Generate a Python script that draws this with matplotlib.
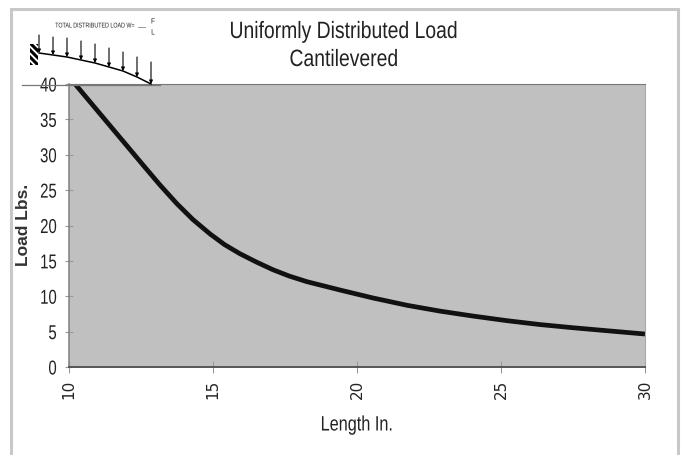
import matplotlib
matplotlib.use('Agg')
import matplotlib.pyplot as plt
import matplotlib.patheffects as pe
from matplotlib.patches import Rectangle
from matplotlib.transforms import Affine2D

# curve
length = [10.21, 10.8, 11.42, 12.0, 12.58, 13.16, 13.74, 14.3, 14.9, 15.4, 15.94, 16.5, 17.08, 17.65, 18.26, 19.41, 20.56, 21.74, 22.88, 24.03, 25.2, 26.35, 27.5, 28.7, 30]
load = [40, 37.14, 34.13, 31.32, 28.5, 25.72, 23.11, 20.85, 18.8, 17.3, 16.0, 14.85, 13.75, 12.85, 12.06, 10.88, 9.75, 8.72, 7.9, 7.2, 6.55, 6.0, 5.55, 5.12, 4.66]
xticks = [10, 15, 20, 25, 30]
yticks = [0, 5, 10, 15, 20, 25, 30, 35, 40]

# beam sketch, in pixels of the picture
arrow_x = [39, 53, 67, 81, 95, 109, 123, 137, 151]
arrow_top = [35, 37, 38, 41, 44, 48, 52, 57, 62]
beam_y = [53, 55, 57, 60, 63, 67, 71, 77, 84]
wall_stripe_y = [36, 43, 50, 57, 64]

W, H = 681, 455
INK = '#222222'
FONT = 'Liberation Sans'


class Squeeze(pe.AbstractPathEffect):
    # no narrow font installed, so squeeze the glyphs sideways round one pixel column
    def __init__(self, cx, sx):
        super().__init__()
        self.cx = cx
        self.sx = sx

    def draw_path(self, renderer, gc, tpath, affine, rgbFace=None):
        gc.set_snap(False)
        squeeze = Affine2D().translate(-self.cx, 0).scale(self.sx, 1).translate(self.cx, 0)
        renderer.draw_path(gc, tpath, affine + squeeze, rgbFace)


def narrow_text(x, y, s, size, sx):
    t = fig.text(x / W, 1 - y / H, s, ha='center', va='center', fontsize=size, family=FONT, color=INK)
    t.set_path_effects([Squeeze(x, sx)])
    return t


fig = plt.figure(figsize=(W / 100, H / 100), dpi=100, facecolor='white')

# grey frame round the whole chart, open at the bottom
fig.add_artist(Rectangle((10.5 / W, -0.02), 667.5 / W, 1.02 - 8.5 / H, transform=fig.transFigure,
                         fill=False, edgecolor='#c8c8c8', linewidth=2.2))

ax = fig.add_axes([69 / W, 1 - 367 / H, 576 / W, 283 / H])
ax.set_facecolor('#c0c0c0')
ax.plot(length, load, color='#111111', linewidth=3.4, solid_capstyle='butt', solid_joinstyle='round')
ax.set_xlim(10, 30)
ax.set_ylim(0, 40)
ax.set_xticks(xticks)
ax.set_yticks(yticks)
ax.set_xticklabels([str(t) for t in xticks], rotation=90, fontsize=11, family='DejaVu Sans', color=INK)
ax.set_yticklabels([str(t) for t in yticks], fontsize=14.5, family=FONT, color=INK)
ax.tick_params(axis='x', direction='inout', length=8, width=0.8, color='#999999', pad=5)
ax.tick_params(axis='y', direction='inout', length=6, width=0.8, color='#999999', pad=6)
for lab in ax.get_yticklabels():
    lab.set_path_effects([Squeeze(57, 0.74)])
ax.spines['top'].set_color('#777777')
ax.spines['right'].set_color('#aaaaaa')
ax.spines['left'].set_color('#808080')
ax.spines['left'].set_linewidth(1.1)
ax.spines['bottom'].set_color('#555555')
ax.spines['bottom'].set_linewidth(1.4)

narrow_text(344, 32, 'Uniformly Distributed Load', 17, 0.82)
narrow_text(344, 60, 'Cantilevered', 17, 0.82)
narrow_text(357, 425, 'Length In.', 15, 0.78)
fig.text(24 / W, 1 - 225 / H, 'Load Lbs.', ha='center', va='center', rotation=90, fontsize=12.5,
         fontweight='bold', family=FONT, color='#333333')

# overlay in pixel coordinates for the beam sketch
ov = fig.add_axes([0, 0, 1, 1], facecolor='none')
ov.set_xlim(0, W)
ov.set_ylim(H, 0)
ov.axis('off')
ov.plot(arrow_x, beam_y, color='black', linewidth=1.1)
ov.plot([22, 160], [84.5, 84.5], color='#777777', linewidth=0.9)
for x0, top, bot in zip(arrow_x, arrow_top, beam_y):
    ov.annotate('', xy=(x0, bot), xytext=(x0, top),
                arrowprops=dict(arrowstyle='-|>', color='black', lw=0.8, mutation_scale=5, shrinkA=0, shrinkB=0))
wall = Rectangle((30, 44), 8, 21, facecolor='white', edgecolor='none')
ov.add_patch(wall)
for y0 in wall_stripe_y:
    stripe, = ov.plot([30, 38], [y0, y0 + 8], color='black', linewidth=2.2, solid_capstyle='projecting')
    stripe.set_clip_path(wall)

narrow_text(95.5, 26, 'TOTAL DISTRIBUTED LOAD W=', 5, 0.77)
ov.plot([138, 145], [27, 27], color='#888888', linewidth=0.6)
narrow_text(153, 22, 'F', 5.5, 0.85)
narrow_text(153, 33, 'L', 5.5, 0.85)

fig.savefig('out.png', dpi=100)
